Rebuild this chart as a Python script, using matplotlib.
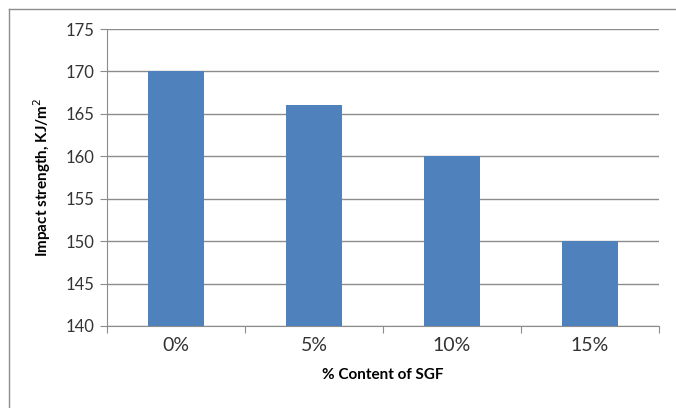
import matplotlib.pyplot as plt
from matplotlib.lines import Line2D

categories = ['0%', '5%', '10%', '15%']
impact = [170, 166, 160, 150]
yticks = [140, 145, 150, 155, 160, 165, 170, 175]

plt.rcParams['font.family'] = ['Lato', 'DejaVu Sans']

W, H = 676, 408
fig = plt.figure(figsize=(W / 100, H / 100), dpi=100)
# plot area in pixels: left 107, right 659, top 29, bottom 326
ax = fig.add_axes([107 / W, 1 - 326 / H, (659 - 107) / W, (326 - 29) / H])

x = range(len(categories))
ax.bar(x, impact, width=0.4, color='#4F81BD', zorder=3)

ax.set_ylim(140, 175)
ax.set_xlim(-0.5, len(categories) - 0.5)
ax.set_yticks(yticks)
ax.set_yticklabels([str(t) for t in yticks], fontsize=12, color='#333333')
ax.yaxis.grid(True, color='#8C8C8C', linewidth=1, zorder=0)

# category labels centered, ticks at category boundaries
ax.set_xticks([i - 0.5 for i in range(len(categories) + 1)])
ax.set_xticklabels([])
ax.set_xticks(list(x), minor=True)
ax.set_xticklabels(categories, minor=True, fontsize=14, color='#333333')
ax.tick_params(axis='x', which='minor', length=0, pad=8)
ax.tick_params(axis='x', which='major', length=5, color='#8C8C8C', direction='out')
ax.tick_params(axis='y', length=5, color='#8C8C8C', direction='out', pad=4)

for s in ['top', 'right']:
    ax.spines[s].set_visible(False)
for s in ['left', 'bottom']:
    ax.spines[s].set_color('#8C8C8C')

ax.set_xlabel('% Content of SGF', fontsize=11, fontweight='bold', labelpad=10)
ax.set_ylabel('Impact strength, KJ/m$^2$', fontsize=11, fontweight='bold', labelpad=9)

# chart frame
fig.add_artist(Line2D([9 / W, 1], [1 - 9 / H, 1 - 9 / H], transform=fig.transFigure, color='#8C8C8C', linewidth=1))
fig.add_artist(Line2D([9 / W, 9 / W], [0, 1 - 9 / H], transform=fig.transFigure, color='#8C8C8C', linewidth=1))

fig.savefig('out.png', dpi=100)
